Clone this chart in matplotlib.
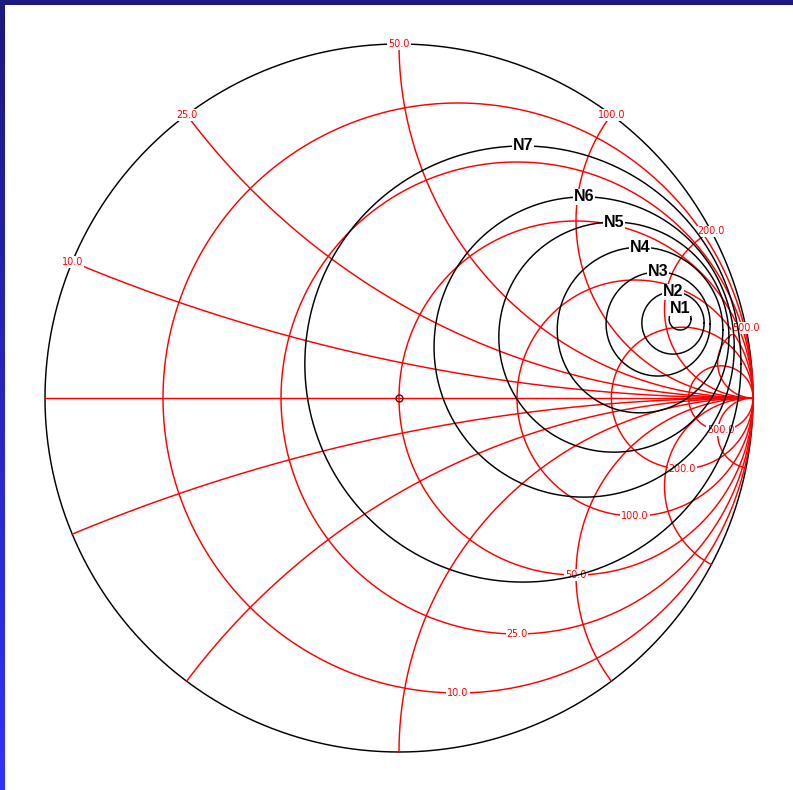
import numpy as np
import matplotlib.pyplot as plt
from matplotlib.patches import Rectangle

# Smith chart, Z0 = 50 ohm, with constant noise-figure circles N1..N7
Z0 = 50.0
r_ohms = [10, 25, 50, 100, 200, 500]   # constant resistance circles
x_ohms = [10, 25, 50, 100, 200, 500]   # constant reactance arcs (+/-)

# noise circles in the reflection-coefficient plane: centre (re, im) and radius
noise_names = ['N1', 'N2', 'N3', 'N4', 'N5', 'N6', 'N7']
noise_re = [0.794, 0.774, 0.732, 0.681, 0.607, 0.523, 0.350]
noise_im = [0.223, 0.212, 0.209, 0.192, 0.172, 0.144, 0.096]
noise_rad = [0.031, 0.088, 0.147, 0.234, 0.325, 0.424, 0.616]

W, H = 793, 790
cx_px, cy_px, rad_px = 399, 398, 354

fig = plt.figure(figsize=(W / 100, H / 100), dpi=100)
fig.patch.set_facecolor('white')
ax = fig.add_axes([0, 0, 1, 1])
ax.set_xlim(-cx_px / rad_px, (W - cx_px) / rad_px)
ax.set_ylim(-(H - cy_px) / rad_px, cy_px / rad_px)
ax.axis('off')

red = '#ff0000'
lw = 1.05
t = np.linspace(0, 2 * np.pi, 721)

# outer |G| = 1 circle
ax.plot(np.cos(t), np.sin(t), color='black', lw=lw, zorder=2)

# real axis
ax.plot([-1, 1], [0, 0], color=red, lw=lw, zorder=2)

# resistance circles
for R in r_ohms:
    r = R / Z0
    c, rho = r / (1 + r), 1 / (1 + r)
    ax.plot(c + rho * np.cos(t), rho * np.sin(t), color=red, lw=lw, zorder=2)

# reactance arcs, traced by sweeping resistance from 0 to infinity
s = np.linspace(0, 0.99995, 800)
rr = s / (1 - s)
for X in x_ohms:
    for sign in (1, -1):
        z = rr + 1j * sign * X / Z0
        g = (z - 1) / (z + 1)
        ax.plot(np.append(g.real, 1), np.append(g.imag, 0), color=red, lw=lw, zorder=2)

lab_kw = dict(color=red, fontsize=6.9, ha='center', va='center', zorder=3,
              bbox=dict(facecolor='white', edgecolor='none', pad=0.6))

# reactance labels on the rim (upper half)
for X in x_ohms:
    g = (1j * X / Z0 - 1) / (1j * X / Z0 + 1)
    ax.text(g.real, g.imag, f'{X:.1f}', **lab_kw)

# resistance labels at the bottom of each circle
for R in r_ohms:
    r = R / Z0
    ax.text(r / (1 + r), -1 / (1 + r), f'{R:.1f}', **lab_kw)

# matched point
ax.plot(0, 0, 'o', mfc='none', mec='#700000', ms=5, mew=1.0, zorder=3)

# noise circles
for name, gx, gy, nr in zip(noise_names, noise_re, noise_im, noise_rad):
    ax.plot(gx + nr * np.cos(t), gy + nr * np.sin(t), color='black', lw=lw, zorder=4)
    ax.text(gx, gy + nr, name, fontsize=11.5, fontweight='bold', family='Liberation Sans',
            ha='center', va='center', zorder=5,
            bbox=dict(facecolor='white', edgecolor='none', pad=0.3))

# slide frame: dark band on top, blue gradient on the left
fig.add_artist(Rectangle((0, 1 - 5 / H), 1, 5 / H, transform=fig.transFigure,
                         facecolor='#1a1a80', edgecolor='none', zorder=10))
side = fig.add_axes([0, 0, 5 / W, 1 - 5 / H])
grad = np.linspace(0, 1, 256)[:, None]
top_c = np.array([26, 26, 128]) / 255
bot_c = np.array([50, 50, 255]) / 255
side.imshow(top_c + grad[..., None] * (bot_c - top_c), aspect='auto')
side.axis('off')

fig.savefig('out.png', dpi=100)
